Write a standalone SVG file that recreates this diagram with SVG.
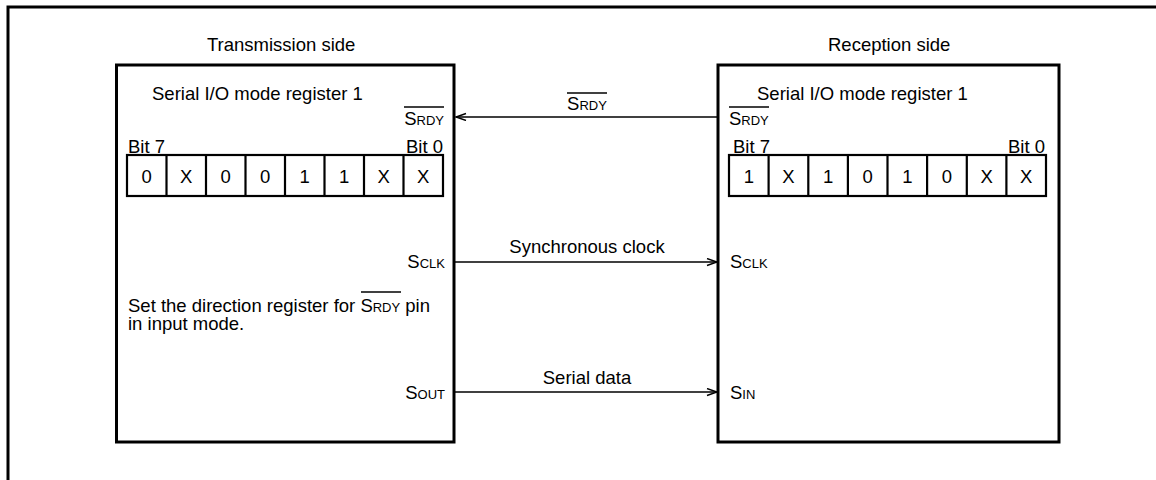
<svg xmlns="http://www.w3.org/2000/svg" width="1156" height="480" viewBox="0 0 1156 480">
<defs>
<style>
text{font-family:"Liberation Sans",Arial,sans-serif;font-size:18.5px;fill:#000}
.sc{font-size:13px}
.box{fill:none;stroke:#000;stroke-width:3}
.cell{fill:none;stroke:#000;stroke-width:2.2}
.ol{stroke:#000;stroke-width:1.5}
.wire{stroke:#000;stroke-width:1.6;fill:none}
.mid{text-anchor:middle}
.end{text-anchor:end}
</style>
<marker id="ah" markerUnits="userSpaceOnUse" markerWidth="14" markerHeight="10" refX="11" refY="4" orient="auto">
<path d="M1,0.5 L11,4 L1,7.5" fill="none" stroke="#000" stroke-width="1.4"/>
</marker>
</defs>
<rect x="8" y="7" width="1160" height="490" class="box"/>

<text x="207" y="51">Transmission side</text>
<text x="828" y="51">Reception side</text>

<g id="tx">
<rect x="116.5" y="65" width="337.5" height="377" class="box"/>
<text x="152" y="100">Serial I/O mode register 1</text>
<text x="444" y="125" class="end">S<tspan class="sc">RDY</tspan></text>
<line x1="404" y1="107" x2="444" y2="107" class="ol"/>
<text x="128" y="153">Bit 7</text>
<text x="443" y="153" class="end">Bit 0</text>
<g id="txreg">
<rect x="127" y="155" width="316" height="41" class="cell"/>
<path d="M166.5,155V196M206,155V196M245.5,155V196M285,155V196M324.5,155V196M364,155V196M403.5,155V196" class="cell"/>
<text x="146.75" y="183" class="mid">0</text>
<text x="186.25" y="183" class="mid">X</text>
<text x="225.75" y="183" class="mid">0</text>
<text x="265.25" y="183" class="mid">0</text>
<text x="304.75" y="183" class="mid">1</text>
<text x="344.25" y="183" class="mid">1</text>
<text x="383.75" y="183" class="mid">X</text>
<text x="423.25" y="183" class="mid">X</text>
</g>
<text x="445" y="268" class="end">S<tspan class="sc">CLK</tspan></text>
<text x="128" y="312">Set the direction register for S<tspan class="sc">RDY</tspan> pin</text>
<line x1="361" y1="292" x2="401" y2="292" class="ol"/>
<text x="128" y="330">in input mode.</text>
<text x="445" y="399" class="end">S<tspan class="sc">OUT</tspan></text>
</g>

<g id="rx">
<rect x="718" y="65" width="341" height="377" class="box"/>
<text x="757" y="100">Serial I/O mode register 1</text>
<text x="729" y="125">S<tspan class="sc">RDY</tspan></text>
<line x1="729" y1="107" x2="769" y2="107" class="ol"/>
<text x="733" y="153">Bit 7</text>
<text x="1045" y="153" class="end">Bit 0</text>
<g id="rxreg">
<rect x="729" y="155" width="317" height="41" class="cell"/>
<path d="M768.6,155V196M808.3,155V196M847.9,155V196M887.5,155V196M927.1,155V196M966.8,155V196M1006.4,155V196" class="cell"/>
<text x="748.8" y="183" class="mid">1</text>
<text x="788.4" y="183" class="mid">X</text>
<text x="828.1" y="183" class="mid">1</text>
<text x="867.7" y="183" class="mid">0</text>
<text x="907.3" y="183" class="mid">1</text>
<text x="946.9" y="183" class="mid">0</text>
<text x="986.6" y="183" class="mid">X</text>
<text x="1026.2" y="183" class="mid">X</text>
</g>
<text x="730" y="268">S<tspan class="sc">CLK</tspan></text>
<text x="730" y="399">S<tspan class="sc">IN</tspan></text>
</g>

<g id="connectors">
<line x1="718" y1="117" x2="456" y2="117" class="wire" marker-end="url(#ah)"/>
<text x="587" y="110" class="mid">S<tspan class="sc">RDY</tspan></text>
<line x1="567" y1="93" x2="607" y2="93" class="ol"/>
<line x1="455" y1="262" x2="717" y2="262" class="wire" marker-end="url(#ah)"/>
<text x="587" y="253" class="mid">Synchronous clock</text>
<line x1="455" y1="392" x2="717" y2="392" class="wire" marker-end="url(#ah)"/>
<text x="587" y="384" class="mid">Serial data</text>
</g>
</svg>
